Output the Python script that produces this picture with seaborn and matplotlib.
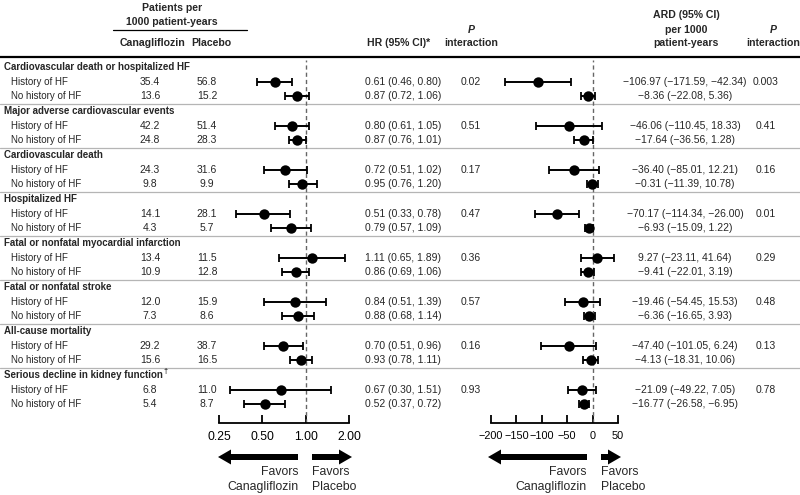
"""
Forest plot: canagliflozin vs placebo by history of heart failure.
HR (log scale) and absolute rate difference panels with a text table.
"""

import matplotlib
matplotlib.use("Agg")
import matplotlib.pyplot as plt
from matplotlib.patches import FancyArrow
import numpy as np
import pandas as pd
import seaborn as sns

W, H = 800, 495

outcomes = [
    "Cardiovascular death or hospitalized HF",
    "Major adverse cardiovascular events",
    "Cardiovascular death",
    "Hospitalized HF",
    "Fatal or nonfatal myocardial infarction",
    "Fatal or nonfatal stroke",
    "All-cause mortality",
    "Serious decline in kidney function",
]
footnote_mark = ["", "", "", "", "", "", "", "\u2020"]
subgroups = ["History of HF", "No history of HF"]

cana_rate = [(35.4, 13.6), (42.2, 24.8), (24.3, 9.8), (14.1, 4.3),
             (13.4, 10.9), (12.0, 7.3), (29.2, 15.6), (6.8, 5.4)]
plac_rate = [(56.8, 15.2), (51.4, 28.3), (31.6, 9.9), (28.1, 5.7),
             (11.5, 12.8), (15.9, 8.6), (38.7, 16.5), (11.0, 8.7)]

hr = [(0.61, 0.87), (0.80, 0.87), (0.72, 0.95), (0.51, 0.79),
      (1.11, 0.86), (0.84, 0.88), (0.70, 0.93), (0.67, 0.52)]
hr_lo = [(0.46, 0.72), (0.61, 0.76), (0.51, 0.76), (0.33, 0.57),
         (0.65, 0.69), (0.51, 0.68), (0.51, 0.78), (0.30, 0.37)]
hr_hi = [(0.80, 1.06), (1.05, 1.01), (1.02, 1.20), (0.78, 1.09),
         (1.89, 1.06), (1.39, 1.14), (0.96, 1.11), (1.51, 0.72)]
p_hr = ["0.02", "0.51", "0.17", "0.47", "0.36", "0.57", "0.16", "0.93"]

ard = [(-106.97, -8.36), (-46.06, -17.64), (-36.40, -0.31), (-70.17, -6.93),
       (9.27, -9.41), (-19.46, -6.36), (-47.40, -4.13), (-21.09, -16.77)]
ard_lo = [(-171.59, -22.08), (-110.45, -36.56), (-85.01, -11.39), (-114.34, -15.09),
          (-23.11, -22.01), (-54.45, -16.65), (-101.05, -18.31), (-49.22, -26.58)]
ard_hi = [(-42.34, 5.36), (18.33, 1.28), (12.21, 10.78), (-26.00, 1.22),
          (41.64, 3.19), (15.53, 3.93), (6.24, 10.06), (7.05, -6.95)]
p_ard = ["0.003", "0.41", "0.16", "0.01", "0.29", "0.48", "0.13", "0.78"]

hr_ticks = [0.25, 0.50, 1.00, 2.00]
ard_ticks = [-200, -150, -100, -50, 0, 50]

# layout (pixels, y measured from the top)
GROUP_TOP, GROUP_STEP, ROW_STEP = 67, 44, 14.65
AXIS_Y, PANEL_TOP = 423, 60
HR_L, HR_R = 219, 349
ARD_L, ARD_R = 491, 618


def fmt(v):
    return f"{v:.2f}".replace("-", "\u2212")


def ci_text(v, lo, hi):
    return f"{fmt(v)} ({fmt(lo)}, {fmt(hi)})"


rows = []
for g, name in enumerate(outcomes):
    for k, sub in enumerate(subgroups):
        rows.append(dict(
            outcome=name, subgroup=sub,
            y=GROUP_TOP + GROUP_STEP * g + ROW_STEP * (k + 1),
            cana=cana_rate[g][k], plac=plac_rate[g][k],
            hr=hr[g][k], hr_lo=hr_lo[g][k], hr_hi=hr_hi[g][k],
            ard=ard[g][k], ard_lo=ard_lo[g][k], ard_hi=ard_hi[g][k],
        ))
df = pd.DataFrame(rows)

sns.set_theme(style="white")
plt.rcParams["font.family"] = ["Liberation Sans", "DejaVu Sans"]

fig = plt.figure(figsize=(W / 100, H / 100), dpi=100)

tab = fig.add_axes([0, 0, 1, 1])
tab.set_xlim(0, W)
tab.set_ylim(H, 0)
tab.axis("off")

FS = 7.5
head = dict(fontsize=7.6, fontweight="bold", va="center")
sect = dict(fontsize=7.0, fontweight="bold", va="center")
norm = dict(fontsize=FS, va="center")

# header
tab.text(172, 8, "Patients per", ha="center", **head)
tab.text(172, 22, "1000 patient-years", ha="center", **head)
tab.plot([113, 247], [30, 30], color="black", lw=0.9)
tab.text(153, 43, "Canagliflozin", ha="center", **head)
tab.text(211, 43, "Placebo", ha="center", **head)
tab.text(367, 43, "HR (95% CI)*", ha="left", **head)
tab.text(471, 30, "P", ha="center", style="italic", **head)
tab.text(471, 43, "interaction", ha="center", **head)
tab.text(686, 15, "ARD (95% CI)", ha="center", **head)
tab.text(686, 30, "per 1000", ha="center", **head)
tab.text(686, 43, "patient-years", ha="center", **head)
tab.text(773, 30, "P", ha="center", style="italic", **head)
tab.text(773, 43, "interaction", ha="center", **head)
tab.plot([0, W], [57, 57], color="black", lw=1.6)

sect_texts = []
for g, name in enumerate(outcomes):
    hy = GROUP_TOP + GROUP_STEP * g
    if g > 0:
        tab.plot([0, W], [hy - 7.5, hy - 7.5], color="#b5b5b5", lw=0.9)
    sect_texts.append(tab.text(4, hy, name, ha="left", **sect))
    sub = df[df["outcome"] == name]
    tab.text(471, sub["y"].iloc[0], p_hr[g], ha="center", **norm)
    tab.text(766, sub["y"].iloc[0], p_ard[g], ha="center", **norm)

for _, r in df.iterrows():
    tab.text(11, r["y"], r["subgroup"], ha="left", fontsize=7.0, va="center")
    tab.text(150, r["y"], f"{r['cana']:.1f}", ha="center", **norm)
    tab.text(207, r["y"], f"{r['plac']:.1f}", ha="center", **norm)
    tab.text(365, r["y"], ci_text(r["hr"], r["hr_lo"], r["hr_hi"]), ha="left", **norm)
    tab.text(685, r["y"], ci_text(r["ard"], r["ard_lo"], r["ard_hi"]), ha="center", **norm)

# superscript footnote marks after section titles
fig.canvas.draw()
renderer = fig.canvas.get_renderer()
for t, mark in zip(sect_texts, footnote_mark):
    if mark:
        bb = t.get_window_extent(renderer)
        x_px = bb.x1 + 0.5
        y_px = t.get_position()[1] - 3
        tab.text(x_px, y_px, mark, ha="left", va="center", fontsize=5.2, fontweight="bold")


def forest(left, right, xcol, locol, hicol, ref, ticks, labels, logscale, labelsize):
    ax = fig.add_axes([left / W, 1 - AXIS_Y / H, (right - left) / W, (AXIS_Y - PANEL_TOP) / H])
    if logscale:
        ax.set_xscale("log", base=2)
    ax.set_xlim(ticks[0], ticks[-1])
    ax.set_ylim(AXIS_Y, PANEL_TOP)
    ax.patch.set_visible(False)
    ax.axvline(ref, color="#666666", ls=(0, (3, 2.2)), lw=1.0, zorder=1)
    ax.errorbar(df[xcol], df["y"], xerr=[df[xcol] - df[locol], df[hicol] - df[xcol]],
                fmt="none", ecolor="black", elinewidth=1.4, capsize=2.8, capthick=1.3, zorder=2)
    sns.scatterplot(data=df, x=xcol, y="y", ax=ax, color="black", s=56,
                    linewidth=0, zorder=3, legend=False)
    ax.set_xlabel("")
    ax.set_ylabel("")
    ax.set_yticks([])
    ax.set_xticks(ticks)
    ax.set_xticklabels(labels)
    ax.minorticks_off()
    ax.tick_params(axis="x", direction="in", length=6, width=1.3, pad=6,
                   labelsize=labelsize, bottom=True, colors="black")
    for s in ["top", "left", "right"]:
        ax.spines[s].set_visible(False)
    ax.spines["bottom"].set_linewidth(1.3)
    ax.spines["bottom"].set_color("black")
    return ax


forest(HR_L, HR_R, "hr", "hr_lo", "hr_hi", 1.0, hr_ticks,
       [f"{t:.2f}" for t in hr_ticks], True, 8.8)
forest(ARD_L, ARD_R, "ard", "ard_lo", "ard_hi", 0, ard_ticks,
       [str(t).replace("-", "\u2212") for t in ard_ticks], False, 7.8)

# direction arrows and captions
arrow_kw = dict(width=6, head_width=15, head_length=13, length_includes_head=True,
                color="black", lw=0)
for lo_x, mid_l, mid_r, hi_x in [(HR_L - 1, 298, 312, HR_R + 3), (ARD_L - 3, 587, 601, ARD_R + 3)]:
    tab.add_patch(FancyArrow(mid_l, 457, lo_x - mid_l, 0, **arrow_kw))
    tab.add_patch(FancyArrow(mid_r, 457, hi_x - mid_r, 0, **arrow_kw))
    tab.text(mid_l, 472, "Favors", ha="right", va="center", fontsize=8.8)
    tab.text(mid_l, 487, "Canagliflozin", ha="right", va="center", fontsize=8.8)
    tab.text(mid_r, 472, "Favors", ha="left", va="center", fontsize=8.8)
    tab.text(mid_r, 487, "Placebo", ha="left", va="center", fontsize=8.8)

fig.savefig("out.png", dpi=100)
